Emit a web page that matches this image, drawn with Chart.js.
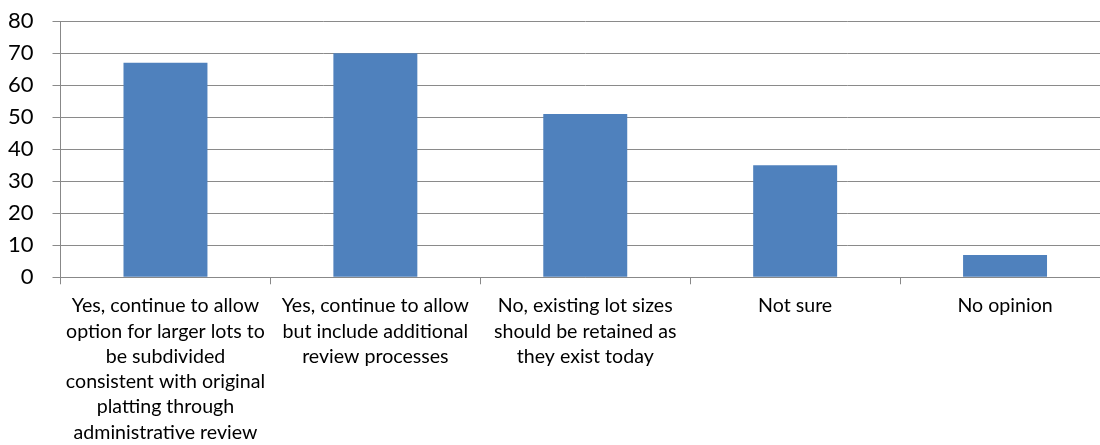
<!DOCTYPE html>
<html>
<head>
<meta charset="utf-8">
<script src="https://cdn.jsdelivr.net/npm/chart.js@4"></script>
<style>
html,body{margin:0;padding:0;overflow:hidden;background:#fff;}
#wrap{width:1120px;height:445px;position:relative;}
</style>
</head>
<body>
<div id="wrap"><canvas id="c" width="1120" height="445"></canvas></div>
<script>
const categories = [
  ["Yes, continue to allow", "option for larger lots to", "be subdivided", "consistent with original", "platting through", "administrative review"],
  ["Yes, continue to allow", "but include additional", "review processes"],
  ["No, existing lot sizes", "should be retained as", "they exist today"],
  ["Not sure"],
  ["No opinion"]
];
const values = [67, 70, 51, 35, 7];
const yTicks = [0, 10, 20, 30, 40, 50, 60, 70, 80];

new Chart(document.getElementById('c'), {
  type: 'bar',
  data: {
    labels: categories,
    datasets: [{
      data: values,
      backgroundColor: '#4F81BD',
      borderWidth: 0,
      categoryPercentage: 0.4,
      barPercentage: 1.0
    }]
  },
  options: {
    responsive: false,
    animation: false,
    devicePixelRatio: 1,
    layout: { padding: { top: 21, right: 10, left: -11, bottom: -9 } },
    plugins: { legend: { display: false }, tooltip: { enabled: false } },
    scales: {
      x: {
        grid: { drawOnChartArea: false, drawTicks: true, tickLength: 7, color: '#888888', offset: true },
        border: { display: true, color: '#888888', width: 1 },
        ticks: {
          color: '#000', maxRotation: 0, autoSkip: false, padding: 9,
          font: { family: 'Lato', size: 19.6, lineHeight: 1.29 }
        }
      },
      y: {
        min: 0, max: 80,
        afterBuildTicks: (axis) => { axis.ticks = yTicks.map(v => ({ value: v })); },
        grid: { color: '#8a8a8a', lineWidth: 1, tickLength: 8 },
        border: { display: true, color: '#888888', width: 1 },
        ticks: {
          color: '#000', padding: 19,
          font: { family: 'Lato', size: 22, lineHeight: 0.2 }
        }
      }
    }
  }
});
</script>
</body>
</html>
